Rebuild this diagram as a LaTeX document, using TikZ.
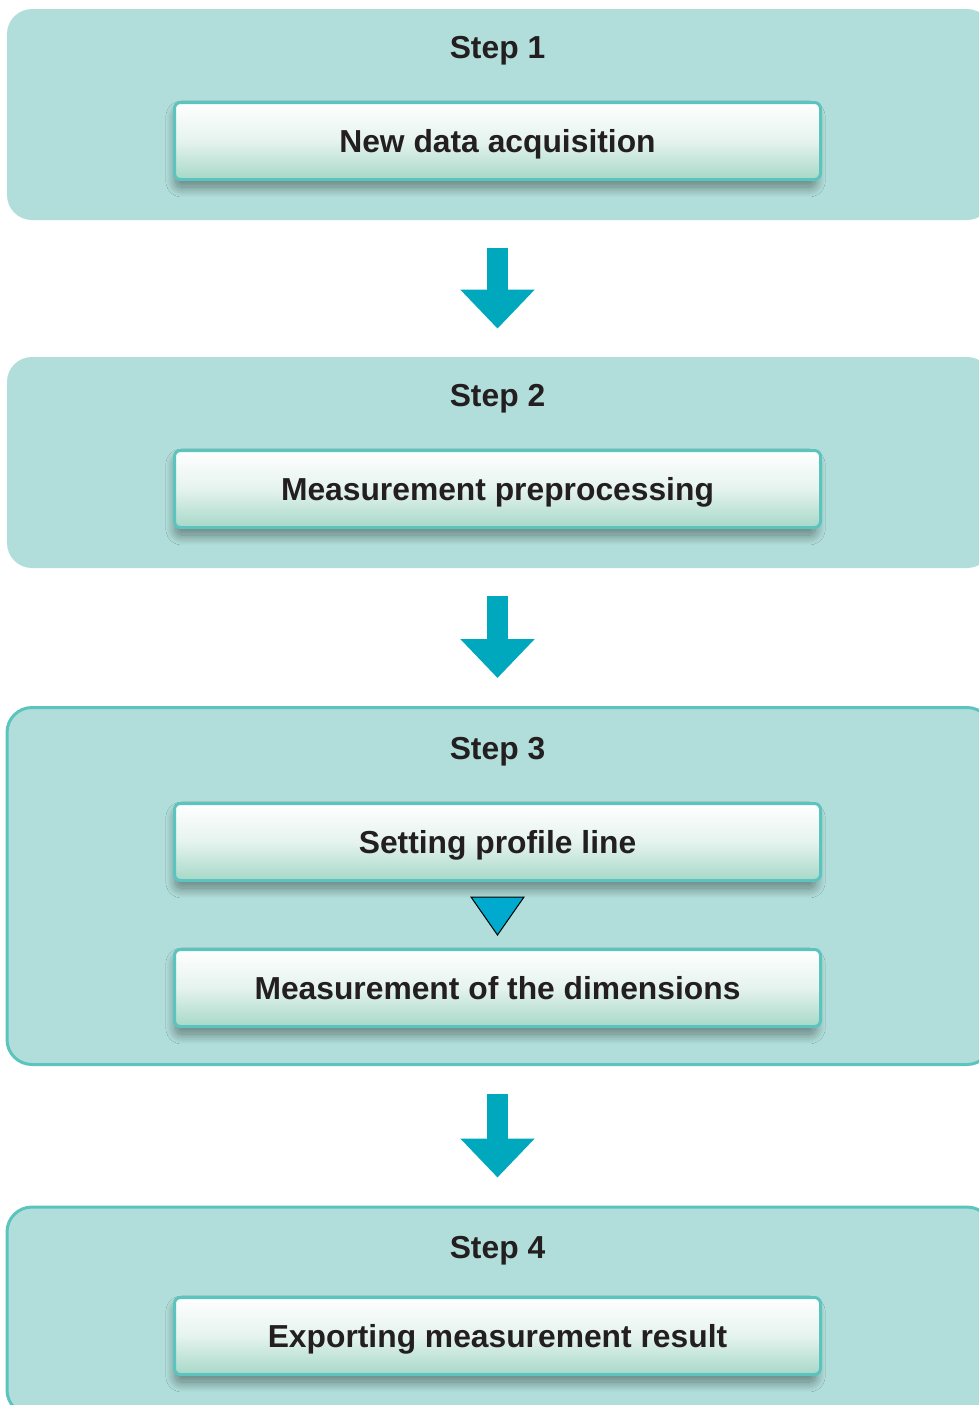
\documentclass[tikz,border=0pt]{standalone}
\usepackage{fontspec}
\setmainfont{Liberation Sans}
\usetikzlibrary{shapes,arrows.meta,calc,shadows.blur}
\definecolor{panelfill}{HTML}{B1DEDA}
\definecolor{panelline}{HTML}{5BC4BE}
\definecolor{boxmid}{HTML}{E5F3EE}
\definecolor{boxbottom}{HTML}{A6D8C8}
\definecolor{arrowteal}{HTML}{00A8BD}
\definecolor{tricyan}{HTML}{00AACF}
\definecolor{textdark}{HTML}{231F20}
\tikzstyle{panel} = [rectangle, fill=panelfill, rounded corners=12.5pt,
    inner sep=0pt, minimum width=492.5pt]
\tikzstyle{panelframed} = [panel, draw=panelline, line width=1.5pt]
\tikzstyle{steplabel} = [anchor=base, text=textdark,
    font=\fontsize{15.9}{19}\selectfont\bfseries]
\tikzstyle{block} = [rectangle, draw=panelline, line width=1.5pt, rounded corners=3pt,
    top color=white, bottom color=boxbottom, middle color=boxmid,
    minimum width=323pt, minimum height=38.5pt, text height=11.4pt, text depth=0pt,
    text=textdark, font=\fontsize{15.9}{19}\selectfont\bfseries,
    blur shadow={shadow xshift=-1pt, shadow yshift=-4pt, shadow scale=0.99,
        shadow blur radius=5pt, shadow blur steps=30, shadow opacity=45}]
\tikzstyle{line} = [draw=arrowteal, line width=10.5pt, -{Triangle[width=36pt,length=19.5pt]},
    shorten <=14pt, shorten >=14pt]
\tikzstyle{tri} = [draw=black, line width=0.5pt, fill=tricyan, line join=miter]

\begin{document}
\begin{tikzpicture}[x=0.5pt, y=-0.5pt]
    \useasboundingbox (0,0) rectangle (979,1405);
    % Place panels
    \node [panel, minimum height=105.5pt] (panel1) at (499.5,114.5) {};
    \node [panel, minimum height=105.5pt] (panel2) at (499.5,462.5) {};
    \node [panelframed, minimum height=178.5pt] (panel3) at (499.5,886) {};
    \node [panelframed, minimum height=104pt] (panel4) at (499.5,1311) {};
    % Place nodes
    \node [steplabel] (step1) at (497.5,58) {Step 1};
    \node [block] (acquire) at (497.5,141) {New data acquisition};
    \node [steplabel] (step2) at (497.5,406) {Step 2};
    \node [block] (preproc) at (497.5,489) {Measurement preprocessing};
    \node [steplabel] (step3) at (497.5,759) {Step 3};
    \node [block] (profile) at (497.5,842) {Setting profile line};
    \node [block] (dims) at (497.5,988) {Measurement of the dimensions};
    \node [steplabel] (step4) at (497.5,1258) {Step 4};
    \node [block] (export) at (497.5,1336) {Exporting measurement result};
    % Draw edges
    \path [line] (panel1.south -| acquire) -- (panel2.north -| acquire);
    \path [line] (panel2.south -| preproc) -- (panel3.north -| preproc);
    \path [line] (panel3.south -| dims) -- (panel4.north -| dims);
    \coordinate (mid) at ($(profile.south)!0.5!(dims.north)$);
    \draw [tri] ($(mid)+(-26.5,-18)$) -- ($(mid)+(26.5,-18)$) -- ($(mid)+(0,20)$) -- cycle;
\end{tikzpicture}
\end{document}
